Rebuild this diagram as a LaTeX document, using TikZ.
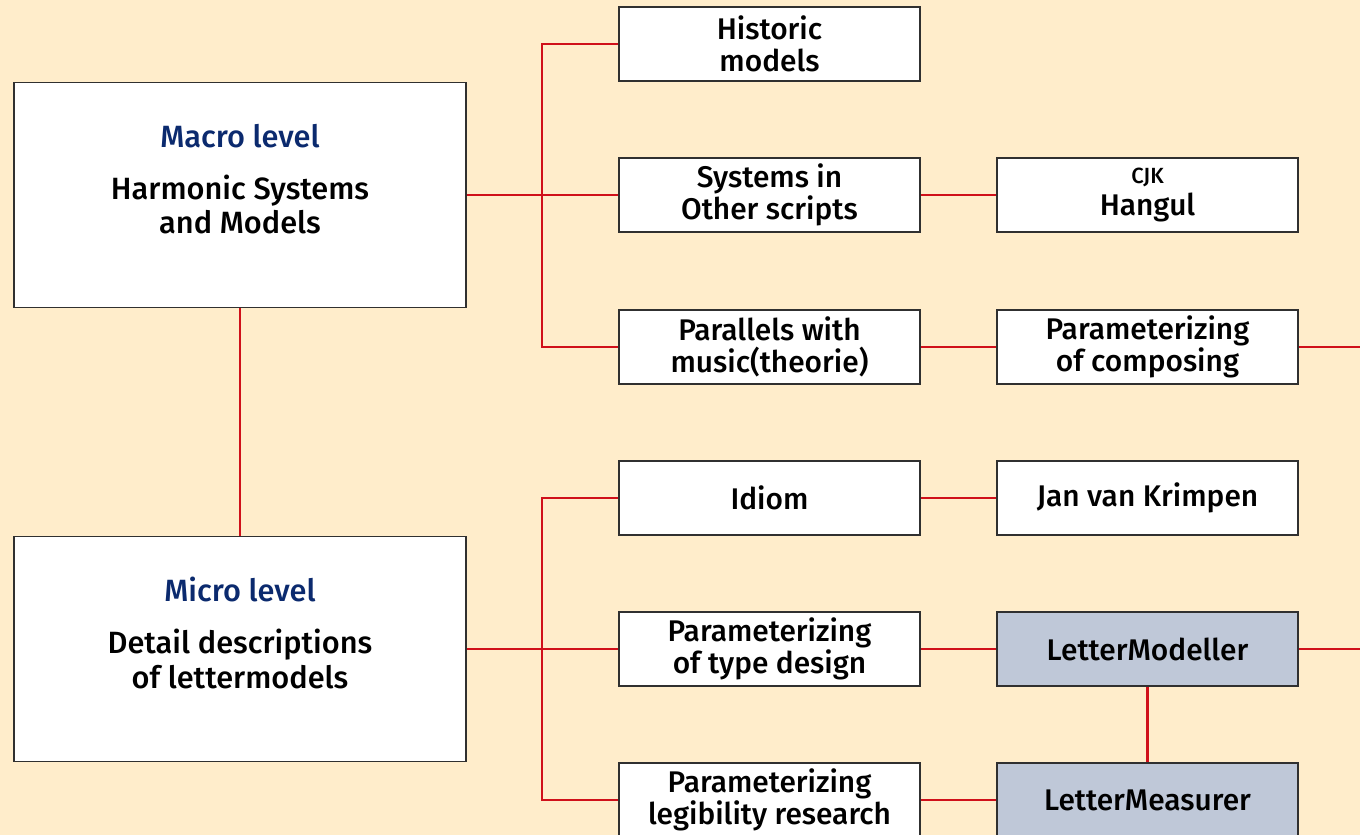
\documentclass[tikz,border=0pt]{standalone}
\usepackage{fontspec}
\setmainfont{Fira Sans}[UprightFont=* Medium]
\usetikzlibrary{calc}

\definecolor{cream}{HTML}{FFEDCB}
\definecolor{linkred}{HTML}{D0101A}
\definecolor{levelblue}{HTML}{0B2A6E}
\definecolor{toolgray}{HTML}{BFC8D8}
\definecolor{edgegray}{HTML}{303030}

\tikzset{
    levelbox/.style={draw=edgegray,line width=1.1pt,fill=white,minimum width=9.04cm,minimum height=4.5cm,inner sep=0},
    topicbox/.style={draw=edgegray,line width=1.1pt,fill=white,minimum width=6.02cm,minimum height=1.48cm,inner sep=0,align=center,
        font=\fontsize{17}{18.5}\selectfont},
    toolbox/.style={topicbox,fill=toolgray},
    leveltext/.style={align=center,font=\fontsize{17.5}{19.5}\selectfont},
    link/.style={draw=linkred,line width=1.2pt}
}

\begin{document}
\begin{tikzpicture}[x=0.02cm,y=-0.02cm]
    \fill[cream] (0,0) rectangle (1360,835);
    \useasboundingbox (0,0) rectangle (1360,835);
    % left: the two levels
    \node[levelbox] (macro) at (240,195) {};
    \node[leveltext] (macrolbl) at (240,179) {{\color{levelblue}Macro level}\\[10pt]Harmonic Systems\\and Models};
    \node[levelbox] (micro) at (240,649) {};
    \node[leveltext] (microlbl) at (240,633) {{\color{levelblue}Micro level}\\[10pt]Detail descriptions\\of lettermodels};
    % middle column
    \node[topicbox] (historic) at (769.5,44) {Historic\\models};
    \node[topicbox] (scripts) at (769.5,195) {Systems in\\Other scripts};
    \node[topicbox] (music) at (769.5,347) {Parallels with\\music(theorie)};
    \node[topicbox] (idiom) at (769.5,498) {Idiom};
    \node[topicbox] (typedesign) at (769.5,649) {Parameterizing\\of type design};
    \node[topicbox] (legibility) at (769.5,800) {Parameterizing\\legibility research};
    % right column
    \node[topicbox] (hangul) at (1147.5,195) {{\fontsize{12.5}{12}\selectfont CJK}\\Hangul};
    \node[topicbox] (composing) at (1147.5,347) {Parameterizing\\of composing};
    \node[topicbox] (krimpen) at (1147.5,498) {Jan van Krimpen};
    \node[toolbox] (modeller) at (1147.5,649) {LetterModeller};
    \node[toolbox] (measurer) at (1147.5,800) {LetterMeasurer};
    % connectors
    \coordinate (busmacro) at (542,195);
    \coordinate (busmicro) at (542,649);
    \coordinate (outcomposing) at (1360,347);
    \coordinate (outmodeller) at (1360,649);
    \draw[link] (macro.south) -- (micro.north);
    \draw[link] (macro.east) -- (scripts.west);
    \draw[link] (historic.west) -| (busmacro) |- (music.west);
    \draw[link] (micro.east) -- (typedesign.west);
    \draw[link] (idiom.west) -| (busmicro) |- (legibility.west);
    \draw[link] (scripts) -- (hangul);
    \draw[link] (music) -- (composing);
    \draw[link] (idiom) -- (krimpen);
    \draw[link] (typedesign) -- (modeller);
    \draw[link] (legibility) -- (measurer);
    \draw[link] (modeller) -- (measurer);
    \draw[link] (composing.east) -- (outcomposing);
    \draw[link] (modeller.east) -- (outmodeller);
\end{tikzpicture}
\end{document}
